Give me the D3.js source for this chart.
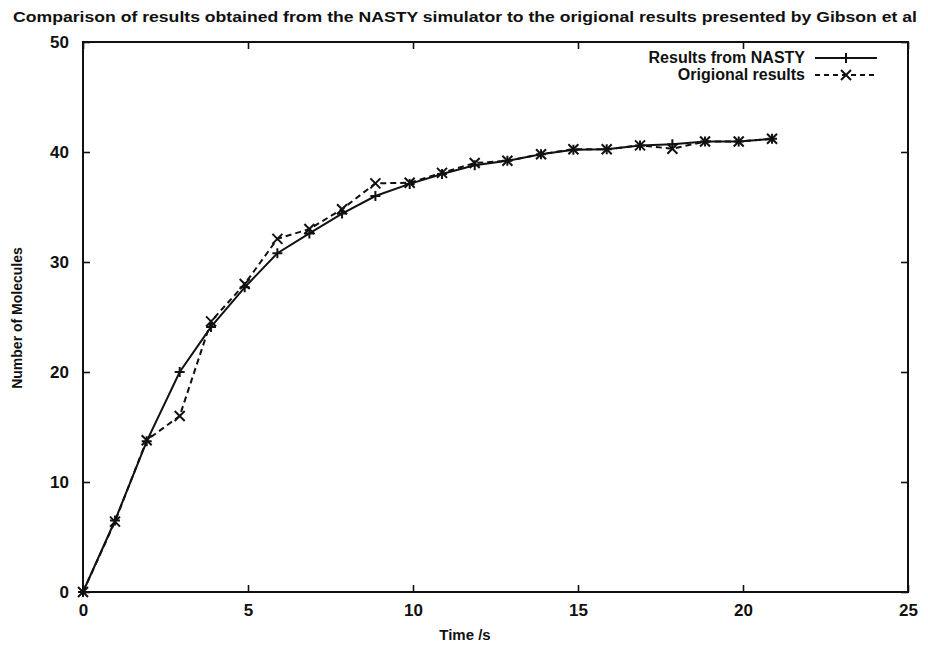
<!DOCTYPE html>
<html>
<head>
<meta charset="utf-8">
<script src="https://cdn.jsdelivr.net/npm/d3@7"></script>
<style>
  body { margin: 0; background: #fff; }
  text { font-family: "Liberation Sans", Arial, sans-serif; font-weight: bold; fill: #111; }
</style>
</head>
<body>
<div id="chart"></div>
<script>
var svgWidth = 928;
var svgHeight = 648;

var margin = { top: 42, right: 20, bottom: 56, left: 83 };
var width = 908 - margin.left;
var height = 592 - margin.top;

// times (points sit a little left of whole seconds)
var times = [0, 0.97, 1.93, 2.93, 3.88, 4.9, 5.89, 6.86, 7.85, 8.86, 9.9, 10.88, 11.87, 12.86, 13.88, 14.86, 15.87, 16.88, 17.86, 18.85, 19.87, 20.88];
var nastyValues = [0, 6.5, 13.7, 20.0, 24.1, 27.7, 30.8, 32.6, 34.4, 36.0, 37.1, 38.0, 38.8, 39.2, 39.8, 40.2, 40.25, 40.6, 40.7, 40.95, 40.95, 41.2];
var origValues = [0, 6.4, 13.8, 16.0, 24.6, 28.0, 32.1, 33.0, 34.8, 37.15, 37.2, 38.1, 39.0, 39.2, 39.8, 40.25, 40.25, 40.6, 40.3, 40.95, 40.95, 41.2];
var xTicks = [0, 5, 10, 15, 20, 25];
var yTicks = [0, 10, 20, 30, 40, 50];

var svg = d3.select("#chart")
  .append("svg")
  .attr("width", svgWidth)
  .attr("height", svgHeight);

svg.append("text")
  .attr("x", 465)
  .attr("y", 22)
  .attr("text-anchor", "middle")
  .attr("textLength", 904)
  .attr("lengthAdjust", "spacingAndGlyphs")
  .style("font-size", "15px")
  .text("Comparison of results obtained from the NASTY simulator to the origional results presented by Gibson et al");

var chartGroup = svg.append("g")
  .attr("transform", `translate(${margin.left}, ${margin.top})`);

var xScale = d3.scaleLinear().domain([0, 25]).range([0, width]);
var yScale = d3.scaleLinear().domain([0, 50]).range([height, 0]);

// frame
chartGroup.append("rect")
  .attr("width", width)
  .attr("height", height)
  .attr("fill", "none")
  .attr("stroke", "#111")
  .attr("stroke-width", 2);

// axes with inward ticks, mirrored on top and right
var tickLen = 7;
var xAxis = d3.axisBottom(xScale).tickValues(xTicks).tickSize(-tickLen).tickPadding(12);
var yAxis = d3.axisLeft(yScale).tickValues(yTicks).tickSize(-tickLen).tickPadding(14);

chartGroup.append("g")
  .attr("transform", `translate(0, ${height})`)
  .call(xAxis);
chartGroup.append("g").call(yAxis);

chartGroup.append("g")
  .call(d3.axisTop(xScale).tickValues(xTicks).tickSize(-tickLen).tickFormat(""));
chartGroup.append("g")
  .attr("transform", `translate(${width}, 0)`)
  .call(d3.axisRight(yScale).tickValues(yTicks).tickSize(-tickLen).tickFormat(""));

chartGroup.selectAll(".domain").remove();
chartGroup.selectAll(".tick line").attr("stroke", "#111").attr("stroke-width", 1.6);
chartGroup.selectAll(".tick text")
  .style("font-size", "17px")
  .style("font-family", "\"Liberation Sans\", Arial, sans-serif")
  .style("font-weight", "bold")
  .attr("fill", "#111");

// axis labels
svg.append("text")
  .attr("x", 465)
  .attr("y", 640)
  .attr("text-anchor", "middle")
  .style("font-size", "15px")
  .text("Time /s");

svg.append("text")
  .attr("transform", "translate(22, 318) rotate(-90)")
  .attr("text-anchor", "middle")
  .style("font-size", "14px")
  .text("Number of Molecules");

var nasty = times.map((t, i) => ({ t: t, v: nastyValues[i] }));
var orig = times.map((t, i) => ({ t: t, v: origValues[i] }));

var line = d3.line()
  .x(d => xScale(d.t))
  .y(d => yScale(d.v));

chartGroup.append("path")
  .datum(orig)
  .attr("d", line)
  .attr("fill", "none")
  .attr("stroke", "#111")
  .attr("stroke-width", 2)
  .attr("stroke-dasharray", "6,4");

chartGroup.append("path")
  .datum(nasty)
  .attr("d", line)
  .attr("fill", "none")
  .attr("stroke", "#111")
  .attr("stroke-width", 2);

var m = 5;
function plusMark(g, x, y) {
  g.append("path")
    .attr("d", `M${x - m},${y}H${x + m}M${x},${y - m}V${y + m}`)
    .attr("stroke", "#111").attr("stroke-width", 2);
}
function crossMark(g, x, y) {
  g.append("path")
    .attr("d", `M${x - m},${y - m}L${x + m},${y + m}M${x - m},${y + m}L${x + m},${y - m}`)
    .attr("stroke", "#111").attr("stroke-width", 2);
}

nasty.forEach(d => plusMark(chartGroup, xScale(d.t), yScale(d.v)));
orig.forEach(d => crossMark(chartGroup, xScale(d.t), yScale(d.v)));

// legend
var legend = svg.append("g");
legend.append("text")
  .attr("x", 805).attr("y", 63)
  .attr("text-anchor", "end")
  .style("font-size", "16px")
  .text("Results from NASTY");
legend.append("line")
  .attr("x1", 815).attr("x2", 877).attr("y1", 58).attr("y2", 58)
  .attr("stroke", "#111").attr("stroke-width", 2);
plusMark(legend, 846, 58);

legend.append("text")
  .attr("x", 805).attr("y", 80)
  .attr("text-anchor", "end")
  .style("font-size", "16px")
  .text("Origional results");
legend.append("line")
  .attr("x1", 815).attr("x2", 877).attr("y1", 75).attr("y2", 75)
  .attr("stroke", "#111").attr("stroke-width", 2)
  .attr("stroke-dasharray", "5,4");
crossMark(legend, 846, 75);
</script>
</body>
</html>
